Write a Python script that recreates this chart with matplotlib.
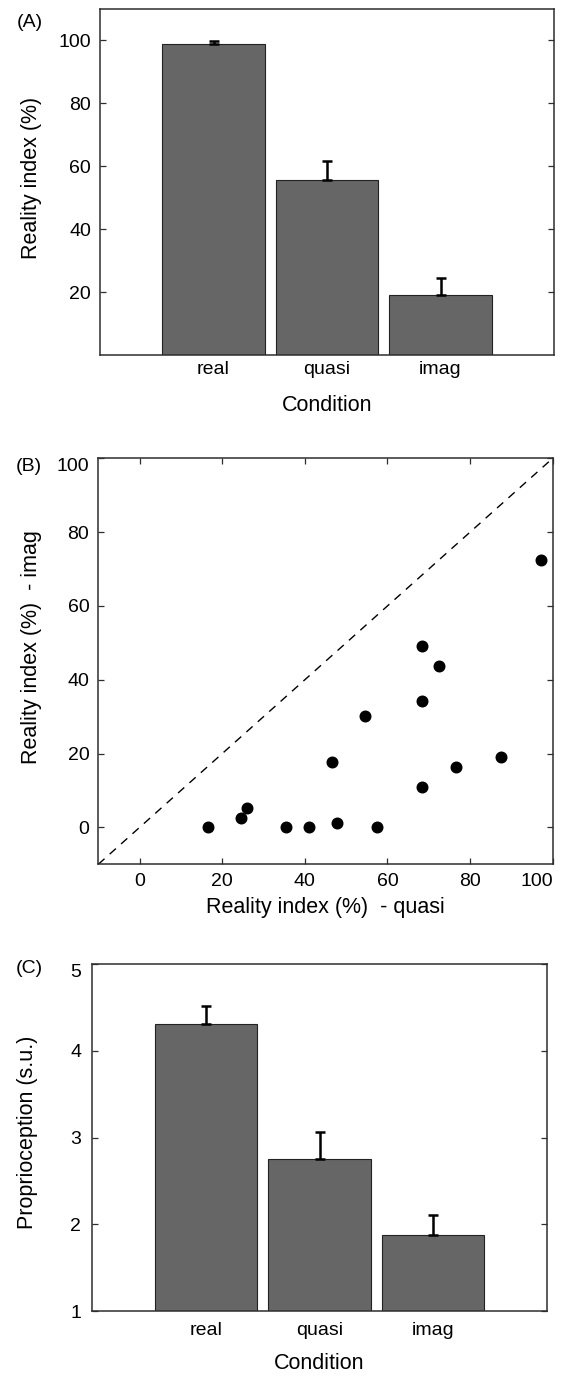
import numpy as np
import matplotlib
matplotlib.use('Agg')
import matplotlib.pyplot as plt

plt.rcParams['font.family'] = ['Liberation Sans', 'DejaVu Sans']

# Panel A / C: group means and (upper) errors
conditions = ['real', 'quasi', 'imag']
reality_mean = [98.8, 55.7, 19.0]
reality_err = [1.0, 5.9, 5.6]
proprio_mean = [4.31, 2.75, 1.88]
proprio_err = [0.21, 0.31, 0.23]

# Panel B: per-subject reality index, quasi vs imag
quasi_vals = [16.5, 24.6, 26.1, 35.5, 41.0, 46.5, 47.9, 54.6, 57.4,
              68.3, 68.3, 68.3, 72.5, 76.7, 87.6, 97.2]
imag_vals = [0.0, 2.6, 5.3, 0.0, 0.0, 17.7, 1.2, 30.2, 0.0,
             49.2, 34.2, 10.9, 43.8, 16.3, 19.1, 72.5]

W, H = 567, 1377
BAR_COLOR = '#666666'
SPINE_COLOR = '#2e2e2e'
TICK_FS = 14
LABEL_FS = 15.5

fig = plt.figure(figsize=(W / 100, H / 100), dpi=100)


def px_axes(left, top, right, bottom):
    return fig.add_axes([left / W, 1 - bottom / H, (right - left) / W, (bottom - top) / H])


def style_axes(ax, xpad, ypad):
    for s in ax.spines.values():
        s.set_color(SPINE_COLOR)
        s.set_linewidth(1.1)
    ax.tick_params(direction='in', length=4, width=0.9, color=SPINE_COLOR,
                   labelsize=TICK_FS, left=True, right=True)
    ax.tick_params(axis='x', pad=xpad)
    ax.tick_params(axis='y', pad=ypad)


def bar_panel(ax, means, errs):
    x = np.arange(1, len(means) + 1)
    ax.bar(x, means, width=0.9, color=BAR_COLOR, edgecolor='#222222', linewidth=0.8, zorder=2)
    ax.errorbar(x, means, yerr=[np.zeros(len(errs)), errs], fmt='none',
                ecolor='black', elinewidth=1.8, capsize=3.5, capthick=1.8, zorder=3)
    ax.set_xlim(0, 4)
    ax.set_xticks(x)
    ax.set_xticklabels(conditions)


# (A)
axA = px_axes(100, 9, 554, 355)
bar_panel(axA, reality_mean, reality_err)
axA.set_ylim(0, 110)
axA.set_yticks([20, 40, 60, 80, 100])
style_axes(axA, 4.0, 6.5)
axA.tick_params(axis='x', length=0)
axA.set_ylabel('Reality index (%)', fontsize=LABEL_FS)
axA.set_xlabel('Condition', fontsize=LABEL_FS)
axA.yaxis.set_label_coords(-0.128, 0.511)
axA.xaxis.set_label_coords(0.5, -0.1153)

# (B)
axB = px_axes(98.3, 458.3, 552.7, 864.3)
axB.plot([-10, 100], [-10, 100], color='black', lw=1.0, linestyle=(0, (6, 5)), zorder=1)
axB.scatter(quasi_vals, imag_vals, s=58, color='black', zorder=3)
axB.set_xlim(-10, 100)
axB.set_ylim(-10, 100)
axB.set_xticks([0, 20, 40, 60, 80, 100])
axB.set_yticks([0, 20, 40, 60, 80, 100])
style_axes(axB, 6.5, 6.5)
axB.tick_params(axis='x', top=True, bottom=True)
axB.get_yticklabels()[-1].set_va('top')
axB.get_xticklabels()[-1].set_ha('right')
axB.set_ylabel('Reality index (%)  - imag', fontsize=LABEL_FS)
axB.set_xlabel('Reality index (%)  - quasi', fontsize=LABEL_FS)
axB.yaxis.set_label_coords(-0.124, 0.534)
axB.xaxis.set_label_coords(0.5, -0.08)

# (C)
axC = px_axes(92.3, 964, 546.7, 1311.3)
bar_panel(axC, proprio_mean, proprio_err)
axC.set_ylim(1, 5)
axC.set_yticks([1, 2, 3, 4, 5])
style_axes(axC, 7.6, 8.0)
axC.tick_params(axis='x', length=0)
axC.get_yticklabels()[-1].set_va('top')
axC.set_ylabel('Proprioception (s.u.)', fontsize=LABEL_FS)
axC.set_xlabel('Condition', fontsize=LABEL_FS)
axC.yaxis.set_label_coords(-0.12, 0.516)
axC.xaxis.set_label_coords(0.5, -0.1206)

# panel letters
for lab, (cx, cy) in zip(['(A)', '(B)', '(C)'], [(30, 22.8), (29, 466.7), (29, 968.5)]):
    fig.text(cx / W, 1 - cy / H, lab, ha='center', va='center', fontsize=14)

fig.savefig('out.png', dpi=100)
